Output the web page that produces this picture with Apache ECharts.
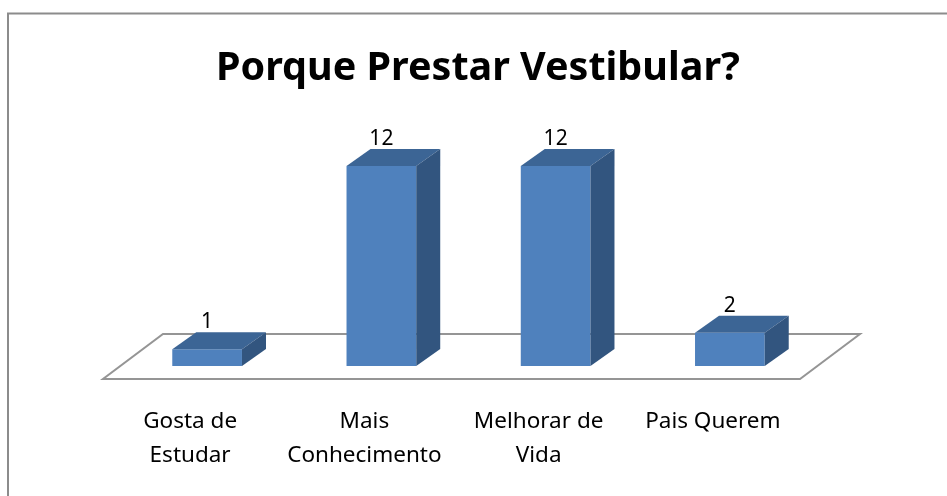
<!DOCTYPE html>
<html>
<head>
<meta charset="utf-8">
<script src="https://cdn.jsdelivr.net/npm/echarts@6/dist/echarts.min.js"></script>
<style>
  html, body { margin: 0; padding: 0; background: #fff; }
  #main { width: 947px; height: 496px; }
</style>
</head>
<body>
<div id="main"></div>
<script>
var titleText = 'Porque Prestar Vestibular?';
var categories = ['Gosta de\nEstudar', 'Mais\nConhecimento', 'Melhorar de\nVida', 'Pais Querem'];
var values = [1, 12, 12, 2];

// 3D look: bar front sits a bit behind the floor's front edge
var BAR_OFF = [17, -13];
var BAR_DEPTH = [24, -17];
var FLOOR_DEPTH = [60, -45];

window.addEventListener('load', function () {
    var myChart = echarts.init(document.getElementById('main'));

    function renderFloor(params, api) {
        var band = api.size([1, 0])[0];
        var a = api.coord([0, 0]);
        var b = api.coord([categories.length - 1, 0]);
        var xl = a[0] - band / 2, xr = b[0] + band / 2, y = a[1];
        return {
            type: 'polygon',
            shape: {
                points: [[xl, y], [xr, y], [xr + FLOOR_DEPTH[0], y + FLOOR_DEPTH[1]], [xl + FLOOR_DEPTH[0], y + FLOOR_DEPTH[1]]]
            },
            style: { fill: '#fff', stroke: '#959595', lineWidth: 2 }
        };
    }

    function renderBar(params, api) {
        var base = api.coord([api.value(0), 0]);
        var top = api.coord([api.value(0), api.value(1)]);
        var w = api.size([1, 0])[0] * 0.4;
        var x0 = base[0] - w / 2 + BAR_OFF[0], x1 = x0 + w;
        var yb = base[1] + BAR_OFF[1], yt = top[1] + BAR_OFF[1];
        var dx = BAR_DEPTH[0], dy = BAR_DEPTH[1];
        return {
            type: 'group',
            children: [
                {
                    type: 'rect',
                    shape: { x: x0, y: yt, width: w, height: yb - yt },
                    style: { fill: '#4f81bd' }
                },
                {
                    type: 'polygon',
                    shape: { points: [[x0, yt], [x1, yt], [x1 + dx, yt + dy], [x0 + dx, yt + dy]] },
                    style: { fill: '#3c6595' }
                },
                {
                    type: 'polygon',
                    shape: { points: [[x1, yt], [x1 + dx, yt + dy], [x1 + dx, yb + dy], [x1, yb]] },
                    style: { fill: '#32557f' }
                },
                {
                    type: 'text',
                    style: {
                        text: String(api.value(1)),
                        x: (x0 + x1) / 2,
                        y: yt + dy - 10,
                        align: 'center',
                        verticalAlign: 'middle',
                        fill: '#000',
                        font: '21px "Noto Sans"'
                    }
                }
            ]
        };
    }

    var option = {
        backgroundColor: '#fff',
        animation: false,
        title: {
            text: titleText,
            left: 216,
            top: 49,
            padding: 0,
            textStyle: {
                fontFamily: 'Noto Sans',
                fontSize: 39.5,
                fontWeight: 'bold',
                color: '#000'
            }
        },
        graphic: [{
            type: 'rect',
            shape: { x: 8, y: 13.5, width: 1000, height: 600 },
            style: { fill: 'none', stroke: '#8c8c8c', lineWidth: 2 },
            silent: true
        }],
        grid: { left: 103, right: 147, top: 179, bottom: 117 },
        xAxis: {
            type: 'category',
            data: categories,
            axisLine: { show: false },
            axisTick: { show: false },
            axisLabel: {
                margin: 26,
                lineHeight: 34,
                fontFamily: 'Noto Sans',
                fontSize: 22.5,
                color: '#000',
                interval: 0
            }
        },
        yAxis: {
            type: 'value',
            min: 0,
            max: 12,
            show: false
        },
        series: [
            {
                name: 'floor',
                type: 'custom',
                renderItem: renderFloor,
                data: [[0, 0]],
                silent: true,
                z: 1
            },
            {
                name: 'Porque',
                type: 'custom',
                renderItem: renderBar,
                encode: { x: 0, y: 1 },
                data: values.map(function (v, i) { return [i, v]; }),
                z: 2
            }
        ]
    };
    myChart.setOption(option);
});
</script>
</body>
</html>
